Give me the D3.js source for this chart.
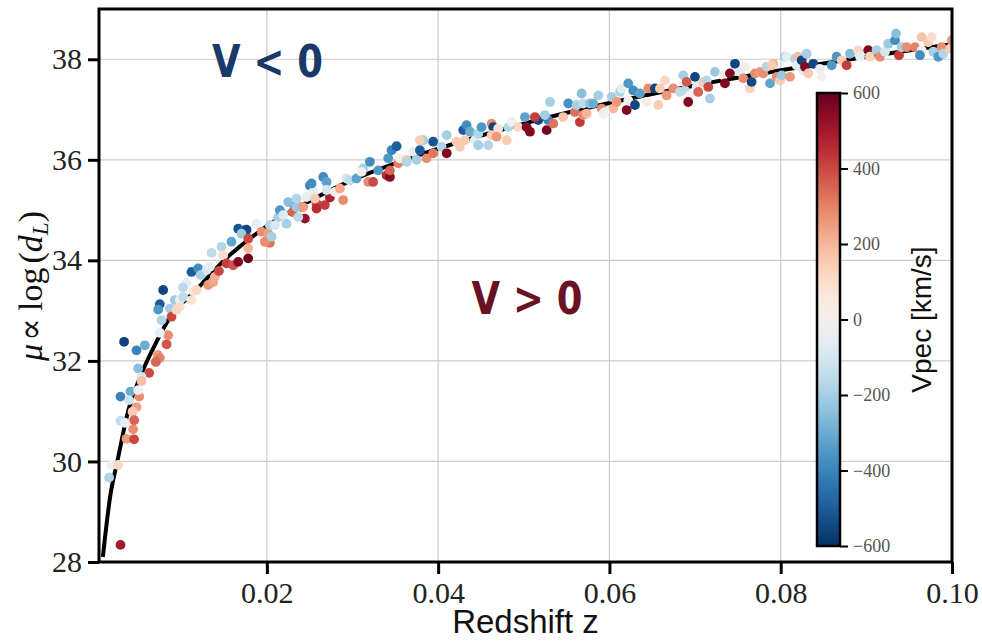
<!DOCTYPE html>
<html>
<head>
<meta charset="utf-8">
<script src="https://cdn.jsdelivr.net/npm/d3@7"></script>
<style>
  body { margin: 0; background: #fff; }
  svg { display: block; }
</style>
</head>
<body>
<svg id="chart" width="982" height="642"></svg>
<script>
// supernovae: [redshift z, distance modulus mu, Vpec km/s]
const supernovae = [
  [0.00333,32.38,-560],[0.00478,32.21,-400],[0.00575,32.31,-300],[0.00829,32.33,380],[0.00847,32.51,280],
  [0.0075,32.56,-30],[0.00727,32.12,260],[0.0075,32.06,300],[0.00704,31.98,350],[0.00625,31.76,400],
  [0.00497,31.85,-250],[0.00537,31.68,-100],[0.00537,31.60,180],[0.00408,31.39,-300],[0.00291,31.29,-400],
  [0.00392,31.22,-120],[0.00509,31.29,280],[0.00478,31.08,250],[0.00432,30.99,150],[0.0045,30.82,350],
  [0.00291,30.81,-150],[0.00342,30.77,-60],[0.00439,30.64,280],[0.00361,30.45,250],[0.0045,30.44,400],
  [0.00186,29.93,-40],[0.00263,29.93,120],[0.00158,29.68,-180],[0.00291,28.34,500],[0.00497,31.42,-20],
  [0.00789,33.41,-550],[0.0075,33.13,-500],[0.00731,33.02,-350],[0.00867,33.04,-200],[0.00887,32.88,400],
  [0.0077,32.81,-180],[0.00926,33.21,-220],[0.00984,33.21,-30],[0.01023,33.27,-150],[0.00984,33.08,100],
  [0.00945,33.01,120],[0.0112,33.21,80],[0.01062,33.55,-60],[0.0102,33.46,-160],[0.0114,33.39,40],
  [0.01179,33.41,120],[0.0112,33.77,-500],[0.01198,33.84,-380],[0.01229,33.71,-200],[0.01296,33.81,-100],
  [0.01334,33.87,-50],[0.01315,33.51,260],[0.01373,33.57,240],[0.01393,33.67,220],[0.0144,33.79,400],
  [0.01354,34.15,-150],[0.01471,34.27,-180],[0.0149,34.10,100],[0.01529,33.94,420],[0.01607,33.90,380],
  [0.01665,33.97,560],[0.01782,34.04,580],[0.01587,34.37,-320],[0.01665,34.63,-520],[0.01743,34.60,-420],
  [0.01763,34.61,-550],[0.01704,34.53,-220],[0.01782,34.43,400],[0.0188,34.73,-60],[0.01938,34.57,280],
  [0.02016,34.53,250],[0.02035,34.35,330],[0.02035,34.70,-180],[0.01782,34.24,200],[0.01977,34.37,280],
  [0.02132,34.86,-200],[0.0219,34.93,-150],[0.02307,35.0,-100],[0.02307,35.13,-350],[0.02405,35.06,400],
  [0.02444,34.83,520],[0.02502,35.49,-400],[0.02658,35.66,-380],[0.0258,35.13,400],[0.02541,35.36,-50],
  [0.02055,34.47,-200],[0.02094,34.70,-100],[0.02152,35.0,-350],[0.0223,34.73,-200],[0.0219,34.90,-80],
  [0.02249,35.16,-250],[0.023,34.96,350],[0.02346,35.06,-220],[0.02346,35.23,-180],[0.02366,34.86,-160],
  [0.02424,35.06,250],[0.02463,35.26,-50],[0.02522,35.53,-380],[0.0258,35.03,450],[0.02561,35.23,150],
  [0.02697,35.56,-330],[0.02677,35.10,420],[0.02736,35.25,480],[0.02697,35.40,-100],[0.02794,35.36,30],
  [0.02853,35.43,230],[0.02891,35.20,280],[0.02931,35.63,-100],[0.02969,35.59,-150],[0.03047,35.63,-320],
  [0.03125,35.83,-200],[0.03106,35.76,20],[0.03183,35.56,280],[0.03241,35.56,400],[0.033,35.79,-350],
  [0.03398,35.69,450],[0.03437,35.66,550],[0.03417,36.03,-350],[0.03456,36.19,-400],[0.03515,36.27,-500],
  [0.03534,35.93,300],[0.03553,36.03,0],[0.03632,36.0,150],[0.03709,36.16,-50],[0.03748,36.0,-200],
  [0.03787,36.19,-500],[0.03826,36.39,-200],[0.03865,36.03,280],[0.03942,36.36,-520],[0.03942,36.13,320],
  [0.0404,36.26,-180],[0.041,36.49,-200],[0.03203,35.96,-380],[0.03437,35.79,350],[0.03632,35.96,-180],
  [0.03787,36.39,150],
  [0.041,36.13,560],[0.04215,36.36,150],[0.04293,36.59,-500],[0.04332,36.69,-380],[0.04371,36.56,-300],
  [0.04312,36.39,150],[0.04429,36.39,-60],[0.04468,36.52,-180],[0.04468,36.29,-200],[0.04585,36.29,-180],
  [0.04507,36.65,-350],[0.04624,36.72,280],[0.04643,36.65,-550],[0.04624,36.49,150],[0.04701,36.62,80],
  [0.04682,36.46,260],[0.048,36.39,150],[0.04818,36.65,-180],[0.04857,36.75,-20],[0.04935,36.65,120],
  [0.05033,36.65,560],[0.05072,36.56,560],[0.05013,36.85,-320],[0.05169,36.79,-550],[0.05267,36.59,580],
  [0.05286,36.79,-400],[0.05247,36.89,-200],[0.0513,36.85,420],[0.05344,36.72,330],[0.05306,37.15,-200],
  [0.0546,36.85,170],[0.05519,37.12,-370],[0.05597,36.95,330],[0.05617,37.09,-200],[0.05655,36.75,430],
  [0.05694,36.89,280],[0.05733,36.92,200],[0.05694,37.12,-150],[0.05675,37.32,-250],[0.05772,37.12,-230],
  [0.05811,37.12,-300],[0.0587,37.28,-200],[0.05909,37.02,280],[0.05928,36.92,30],[0.06026,37.25,-200],
  [0.06045,37.02,200],[0.04254,36.26,150],
  [0.05947,36.95,-10],[0.06123,37.35,-180],[0.06142,37.42,-60],[0.06084,37.15,260],[0.06201,36.99,560],
  [0.0622,37.52,-350],[0.0622,37.18,0],[0.06278,37.38,-380],[0.06298,37.09,-550],[0.06356,37.32,-330],
  [0.06453,37.42,280],[0.06434,37.15,30],[0.06531,37.42,-550],[0.0657,37.09,150],[0.0659,37.42,150],
  [0.06648,37.58,120],[0.06668,37.28,260],[0.06745,37.42,280],[0.06823,37.35,-150],[0.06862,37.68,-200],
  [0.06882,37.38,-160],[0.06901,37.55,370],[0.0694,37.28,0],[0.0692,37.15,560],[0.06999,37.65,-550],
  [0.07018,37.45,-50],[0.07037,37.35,350],[0.07096,37.55,150],[0.07135,37.58,-170],[0.07174,37.22,-200],
  [0.07154,37.45,400],[0.07232,37.75,-220],[0.07329,37.68,30],[0.07349,37.52,560],[0.07407,37.72,560],
  [0.07466,37.91,-550],[0.07524,37.75,-80],[0.07583,37.85,30],[0.07563,37.62,280],[0.07641,37.42,130],
  [0.0766,37.55,-550],[0.07699,37.72,280],[0.07758,37.75,260],[0.07797,37.72,280],[0.07836,37.85,-180],
  [0.07875,37.52,-320],[0.07914,37.91,200],[0.07953,37.65,280],[0.07992,37.58,150],[0.08011,37.68,-220],
  [0.0805,38.05,-200],
  [0.07894,37.88,150],[0.0807,38.05,-60],[0.08108,37.65,260],[0.08167,38.01,-180],[0.08206,38.05,180],
  [0.08186,37.88,-60],[0.08245,37.98,-550],[0.08264,37.78,-80],[0.08283,37.85,560],[0.08322,37.72,160],
  [0.0838,37.91,-550],[0.08458,37.81,-50],[0.08478,37.65,20],[0.08595,37.88,-350],[0.08653,38.05,-350],
  [0.08712,37.98,150],[0.0877,37.88,420],[0.08809,38.11,-260],[0.08906,38.18,120],[0.08926,38.05,-60],
  [0.09022,38.18,560],[0.09042,38.05,130],[0.0912,38.18,-200],[0.09159,38.05,280],[0.09217,38.15,-100],
  [0.09256,38.31,-220],[0.09334,38.38,-380],[0.09346,38.51,-250],[0.09381,38.08,420],[0.09412,38.24,-200],
  [0.09471,38.24,280],[0.09568,38.24,300],[0.09646,38.18,-30],[0.09646,38.44,170],[0.09723,38.34,150],
  [0.09763,38.44,100],[0.09782,38.15,-200],[0.0984,38.05,-350],[0.09879,38.24,280],[0.09899,38.11,-180],
  [0.09977,38.21,150],[0.09997,38.38,250],[0.08303,38.11,-200],[0.09626,38.08,-380]
];

// black model curve
const curveZ  = [0.00085, 0.0017, 0.0026, 0.0038, 0.0052, 0.0072, 0.0087, 0.0118, 0.015, 0.02,
                 0.025, 0.03, 0.035, 0.04, 0.05, 0.06, 0.07, 0.08, 0.09, 0.10];
const curveMu = [28.1, 29.3, 30.05, 31.0, 31.68, 32.41, 32.87, 33.42, 34.0, 34.68,
                 35.18, 35.6, 35.93, 36.22, 36.72, 37.13, 37.48, 37.78, 38.05, 38.3];

const xTicks = [0.02, 0.04, 0.06, 0.08, 0.10];
const yTicks = [28, 30, 32, 34, 36, 38];
const cbTicks = [-600, -400, -200, 0, 200, 400, 600];

const svg = d3.select('#chart');
const margin = { top: 9, right: 30, bottom: 80, left: 99 };
const width = +svg.attr('width');
const height = +svg.attr('height');
const innerWidth = width - margin.left - margin.right;
const innerHeight = height - margin.top - margin.bottom;

const x = d3.scaleLinear().domain([0.0004, 0.10]).range([0, innerWidth]);
const y = d3.scaleLinear().domain([28, 39]).range([innerHeight, 0]);
const vmin = -600, vmax = 600;
const color = v => d3.interpolateRdBu(1 - (v - vmin) / (vmax - vmin));

const g = svg.append('g')
    .attr('transform', `translate(${margin.left}, ${margin.top})`);

svg.append('defs').append('clipPath').attr('id', 'plotclip')
  .append('rect').attr('width', innerWidth).attr('height', innerHeight);

// grid
g.append('g').selectAll('line.gx')
  .data(xTicks.slice(0, -1))
  .enter().append('line')
    .attr('x1', d => x(d)).attr('x2', d => x(d))
    .attr('y1', 0).attr('y2', innerHeight)
    .attr('stroke', '#cbcbcb').attr('stroke-width', 1.2);
g.append('g').selectAll('line.gy')
  .data(yTicks.slice(1))
  .enter().append('line')
    .attr('y1', d => y(d)).attr('y2', d => y(d))
    .attr('x1', 0).attr('x2', innerWidth)
    .attr('stroke', '#cbcbcb').attr('stroke-width', 1.2);

const plot = g.append('g').attr('clip-path', 'url(#plotclip)');

const line = d3.line()
    .x((d, i) => x(curveZ[i]))
    .y(d => y(d))
    .curve(d3.curveMonotoneX);

plot.append('path')
  .datum(curveMu)
  .attr('d', line)
  .attr('fill', 'none')
  .attr('stroke', '#000')
  .attr('stroke-width', 4);

plot.selectAll('circle')
  .data(supernovae)
  .enter().append('circle')
    .attr('cx', d => x(d[0]))
    .attr('cy', d => y(d[1]))
    .attr('r', 4.9)
    .attr('fill', d => color(d[2]));

// axes
const tickFont = "'Liberation Serif', 'DejaVu Serif', serif";

const xAxis = g.append('g')
    .attr('transform', `translate(0, ${innerHeight})`)
    .call(d3.axisBottom(x).tickValues(xTicks).tickFormat(d3.format('.2f')).tickSize(12).tickPadding(8));
const yAxis = g.append('g')
    .call(d3.axisLeft(y).tickValues(yTicks).tickFormat(d3.format('d')).tickSize(11).tickPadding(6));

[xAxis, yAxis].forEach(a => {
  a.select('.domain').remove();
  a.selectAll('line').attr('stroke', '#000').attr('stroke-width', 3);
  a.selectAll('text')
    .attr('fill', '#222')
    .style('font-family', tickFont)
    .style('font-size', '30px');
});

g.append('rect')
  .attr('width', innerWidth).attr('height', innerHeight)
  .attr('fill', 'none').attr('stroke', '#000').attr('stroke-width', 3);

// axis labels
svg.append('text')
  .attr('x', margin.left + innerWidth / 2)
  .attr('y', 633)
  .attr('text-anchor', 'middle')
  .style('font-family', "'Liberation Sans', Arial, sans-serif")
  .style('font-size', '33px')
  .attr('fill', '#111')
  .text('Redshift z');

const ylab = svg.append('text')
  .attr('transform', 'translate(42, 286) rotate(-90)')
  .attr('text-anchor', 'middle')
  .style('font-family', tickFont)
  .style('font-size', '34px')
  .attr('fill', '#111');
ylab.append('tspan').style('font-style', 'italic').text('μ');
ylab.append('tspan').attr('dx', 3).text('∝');
ylab.append('tspan').attr('dx', 7).text('log');
ylab.append('tspan').attr('dx', 4).text('(');
ylab.append('tspan').style('font-style', 'italic').text('d');
ylab.append('tspan').style('font-style', 'italic').style('font-size', '23px').attr('dy', 6).text('L');
ylab.append('tspan').attr('dy', -6).text(')');

// annotations
const annot = [
  { label: 'V < 0', z: 0.0136, mu: 37.65, fill: '#18396a' },
  { label: 'V > 0', z: 0.0439, mu: 32.93, fill: '#6a1124' }
];
annot.forEach(a => {
  g.append('text')
    .attr('transform', `translate(${x(a.z)}, ${y(a.mu)}) scale(0.84, 1)`)
    .style('font-family', "'DejaVu Sans', sans-serif")
    .style('font-weight', 'bold')
    .style('font-size', '44px')
    .attr('fill', a.fill)
    .text(a.label);
});

// colorbar
const cb = { x: 817, top: 93, bottom: 546, w: 23 };
const cbScale = d3.scaleLinear().domain([vmin, vmax]).range([cb.bottom, cb.top]);

const grad = svg.select('defs').append('linearGradient')
  .attr('id', 'cbgrad').attr('x1', 0).attr('x2', 0).attr('y1', 1).attr('y2', 0);
d3.range(0, 1.0001, 0.05).forEach(t => {
  grad.append('stop')
    .attr('offset', t)
    .attr('stop-color', color(vmin + t * (vmax - vmin)));
});

svg.append('rect')
  .attr('x', cb.x).attr('y', cb.top)
  .attr('width', cb.w).attr('height', cb.bottom - cb.top)
  .attr('fill', 'url(#cbgrad)')
  .attr('stroke', '#000').attr('stroke-width', 2.5);

const cbAxis = svg.append('g')
    .attr('transform', `translate(${cb.x + cb.w}, 0)`)
    .call(d3.axisRight(cbScale).tickValues(cbTicks)
      .tickFormat(d => d < 0 ? '−' + Math.abs(d) : String(d))
      .tickSize(8).tickPadding(5));
cbAxis.select('.domain').remove();
cbAxis.selectAll('line').attr('stroke', '#000').attr('stroke-width', 2);
cbAxis.selectAll('text')
  .attr('fill', '#555')
  .style('font-family', tickFont)
  .style('font-size', '18px');

svg.append('text')
  .attr('transform', `translate(931, ${(cb.top + cb.bottom) / 2}) rotate(-90)`)
  .attr('text-anchor', 'middle')
  .style('font-family', "'Liberation Sans', Arial, sans-serif")
  .style('font-size', '28px')
  .attr('fill', '#111')
  .text('Vpec [km/s]');
</script>
</body>
</html>
